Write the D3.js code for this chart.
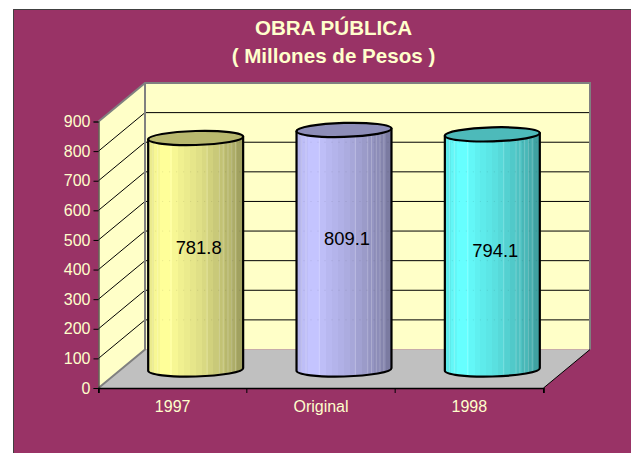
<!DOCTYPE html>
<html>
<head>
<meta charset="utf-8">
<script src="https://cdn.jsdelivr.net/npm/d3@7"></script>
<style>
html, body { margin: 0; padding: 0; background: #fff; overflow: hidden; }
svg { display: block; font-family: "Liberation Sans", Arial, sans-serif; }
</style>
</head>
<body>
<svg id="chart" width="631" height="453"></svg>
<script>
// datos de la grafica
const categories = ["1997", "Original", "1998"];
const values = [781.8, 809.1, 794.1];
const yTicks = [0, 100, 200, 300, 400, 500, 600, 700, 800, 900];
const titleLines = ["OBRA PÚBLICA", "( Millones de Pesos )"];
const baseColors = ["#ffff99", "#c4c4ff", "#66ffff"];
const capColors = ["#b8b86e", "#8d8db8", "#4dbaba"];

const svg = d3.select("#chart");
const textColor = "#ffffcc";

// fondo
svg.append("rect")
    .attr("x", 13).attr("y", 9)
    .attr("width", 618).attr("height", 444)
    .attr("fill", "#993366");
svg.append("path")
    .attr("d", "M13.5,453V9.5H631")
    .attr("fill", "none")
    .attr("stroke", "#404040");

// titulo
svg.selectAll(".title")
    .data(titleLines)
    .enter().append("text")
    .attr("x", 333.5)
    .attr("y", (d, i) => 35 + i * 28)
    .attr("text-anchor", "middle")
    .attr("fill", textColor)
    .style("font-size", "20.6px")
    .style("font-weight", "bold")
    .text(d => d);

// escalas
const plotLeft = 98.5, plotRight = 543.5, plotBottom = 388, plotTop = 121.5;
const depthX = 46.5, depthY = 38.5;

const x = d3.scaleBand().domain(categories).range([plotLeft, plotRight]);
const y = d3.scaleLinear().domain([0, 900]).range([plotBottom, plotTop]);

// paredes y piso
svg.append("path")
    .attr("d", `M${plotLeft},${plotBottom}V${plotTop}L${plotLeft + depthX},${plotTop - depthY}V${plotBottom - depthY}Z`)
    .attr("fill", "#ffffc8");
svg.append("rect")
    .attr("x", plotLeft + depthX).attr("y", plotTop - depthY)
    .attr("width", plotRight - plotLeft).attr("height", plotBottom - plotTop)
    .attr("fill", "#ffffc8");
svg.append("path")
    .attr("d", `M${plotLeft},${plotBottom}L${plotLeft + depthX},${plotBottom - depthY}H${plotRight + depthX}L${plotRight},${plotBottom}Z`)
    .attr("fill", "#c0c0c0");

// lineas de la reticula
svg.selectAll(".grid")
    .data(yTicks.slice(1, -1))
    .enter().append("path")
    .attr("d", d => `M${plotLeft},${y(d)}L${plotLeft + depthX},${y(d) - depthY}H${plotRight + depthX}`)
    .attr("fill", "none")
    .attr("stroke", "#000")
    .attr("stroke-width", 1);

// bordes grises de las paredes
svg.append("path")
    .attr("d", `M${plotLeft},${plotTop}L${plotLeft + depthX},${plotTop - depthY}H${plotRight + depthX}V${plotBottom - depthY}`
        + `M${plotLeft + depthX},${plotTop - depthY}V${plotBottom - depthY}L${plotLeft},${plotBottom}`)
    .attr("fill", "none")
    .attr("stroke", "#808080")
    .attr("stroke-width", 2);
svg.append("path")
    .attr("d", `M${plotRight},${plotBottom}L${plotRight + depthX},${plotBottom - depthY}`)
    .attr("fill", "none")
    .attr("stroke", "#000");

// degradados de los cilindros, por bandas
const defs = svg.append("defs");
const shade = [0.92, 0.97, 1, 1, 0.97, 0.94, 0.92, 0.9, 0.88, 0.85, 0.82, 0.79, 0.76, 0.72, 0.68, 0.63];
baseColors.forEach((c, i) => {
    const g = defs.append("linearGradient").attr("id", "cyl" + i);
    const col = d3.rgb(c);
    shade.forEach((s, j) => {
        const stopColor = d3.rgb(col.r * s, col.g * s, col.b * s).formatHex();
        g.append("stop").attr("offset", j / shade.length).attr("stop-color", stopColor);
        g.append("stop").attr("offset", (j + 1) / shade.length).attr("stop-color", stopColor);
    });
});

// cilindros
const rx = 47.5, ry = 7;
const tiltDeg = -1.6;
const tilt = tiltDeg * Math.PI / 180;
const dxTilt = rx * Math.cos(tilt), dyTilt = rx * Math.sin(tilt);
const stripes = [0.05, 0.1, 0.24, 0.62, 0.75, 0.79, 0.84, 0.88, 0.92];
const labelNudge = [0, -5, 5];

categories.forEach((cat, i) => {
    const cx = x(cat) + x.bandwidth() / 2 + 23;
    const base = y(0) - 18.5;
    const tp = y(values[i]) - 18.5;
    const g = svg.append("g");
    const body = `M${cx - dxTilt},${tp - dyTilt}`
        + `L${cx - dxTilt},${base - dyTilt}`
        + `A${rx},${ry} ${tiltDeg} 0 0 ${cx + dxTilt},${base + dyTilt}`
        + `L${cx + dxTilt},${tp + dyTilt}Z`;

    defs.append("clipPath").attr("id", "clip" + i).append("path").attr("d", body);

    g.append("path").attr("d", body).attr("fill", `url(#cyl${i})`);

    // rayas claras y reticula que se transparenta
    const inner = g.append("g").attr("clip-path", `url(#clip${i})`);
    inner.selectAll("line.stripe")
        .data(stripes)
        .enter().append("line")
        .attr("class", "stripe")
        .attr("x1", d => cx - rx + d * 2 * rx)
        .attr("x2", d => cx - rx + d * 2 * rx)
        .attr("y1", tp - ry).attr("y2", base + ry)
        .attr("stroke", "#fff")
        .attr("stroke-opacity", 0.22);
    inner.selectAll("line.ghost")
        .data(yTicks.slice(1, -1))
        .enter().append("line")
        .attr("class", "ghost")
        .attr("x1", cx - rx).attr("x2", cx + rx)
        .attr("y1", d => y(d) - depthY).attr("y2", d => y(d) - depthY)
        .attr("stroke", "#000")
        .attr("stroke-opacity", 0.1)
        .attr("stroke-dasharray", "1 6");

    g.append("path")
        .attr("d", body)
        .attr("fill", "none")
        .attr("stroke", "#000")
        .attr("stroke-width", 2.2)
        .attr("stroke-linejoin", "round");

    g.append("ellipse")
        .attr("cx", cx).attr("cy", tp)
        .attr("rx", rx).attr("ry", ry)
        .attr("transform", `rotate(${tiltDeg} ${cx} ${tp})`)
        .attr("fill", capColors[i])
        .attr("stroke", "#000")
        .attr("stroke-width", 2.2);

    // etiqueta del valor
    g.append("text")
        .attr("x", cx + 3)
        .attr("y", (tp + base) / 2 + labelNudge[i])
        .attr("text-anchor", "middle")
        .attr("fill", "#000")
        .style("font-size", "18.4px")
        .text(values[i].toFixed(1));
});

// ejes
const yAxis = d3.axisLeft(y).tickValues(yTicks).tickSize(5).tickPadding(3);
const xAxis = d3.axisBottom(x).tickSize(5).tickPadding(8);

const gy = svg.append("g").attr("transform", `translate(${plotLeft},0)`).call(yAxis);
const gx = svg.append("g").attr("transform", `translate(0,${plotBottom})`).call(xAxis);

// marcas en los limites de cada categoria, no en el centro
gx.selectAll(".tick line").remove();
gx.selectAll(".bound")
    .data(d3.range(categories.length + 1))
    .enter().append("line")
    .attr("x1", d => plotLeft + d * x.step())
    .attr("x2", d => plotLeft + d * x.step())
    .attr("y1", 0).attr("y2", 5)
    .attr("stroke", "#000");

[gx, gy].forEach(a => {
    a.selectAll("text").attr("fill", textColor)
        .style("font-size", "16px")
        .style("font-family", '"Liberation Sans", Arial, sans-serif');
    a.selectAll(".tick line").attr("stroke", "#000");
});
gx.select(".domain").attr("stroke", "#000").attr("stroke-width", 1.6);
gy.select(".domain").attr("stroke", "#333").attr("stroke-width", 1.2);
</script>
</body>
</html>
